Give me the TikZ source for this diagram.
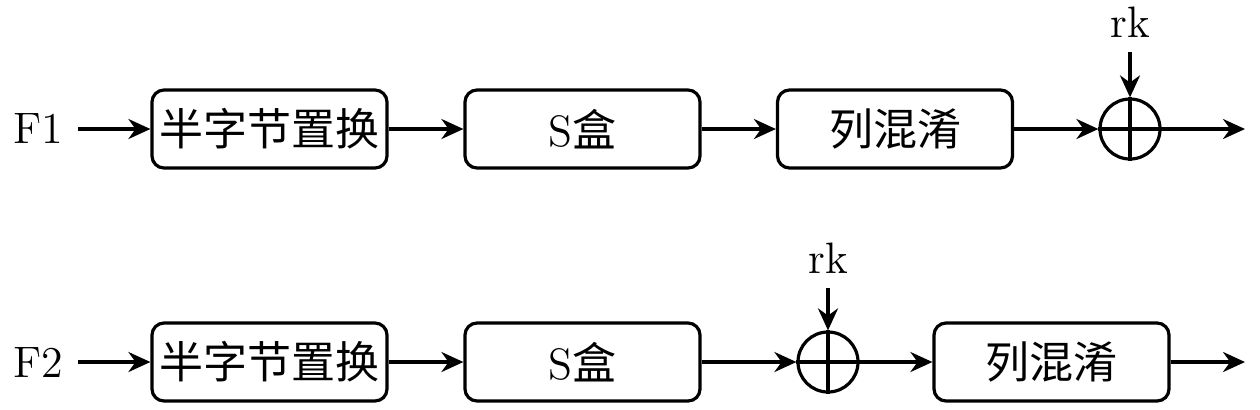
\documentclass[tikz,border=0pt]{standalone}
\usepackage{fontspec}
\newfontfamily\cjk{Noto Sans CJK SC}
\newcommand{\zh}[1]{{\cjk #1}}
\usetikzlibrary{arrows.meta}

\begin{document}
\begin{tikzpicture}[x=0.25pt,y=-0.25pt,line width=0.8pt,
  font=\fontsize{11}{13}\selectfont,
  blk/.style={draw,rounded corners=3pt,minimum width=58.75pt,minimum height=19.5pt,inner sep=0pt},
  xorc/.style={draw,circle,minimum size=15pt,inner sep=0pt},
  >={Stealth[length=5.5pt,width=5pt]}]
\useasboundingbox (0,0) rectangle (1260,409);
%\draw[help lines] (0,0) grid (1260,409);
\foreach \x/\y/\n/\t in {38/129/f1/F1, 38/362/f2/F2, 1130/22/k1/rk, 828/258/k2/rk}
  \node (\n) at (\x,\y) {\t};
\foreach \x/\y/\n/\t in {269.5/129/p1/\zh{半字节置换}, 582.5/129/s1/S\zh{盒}, 895/129/m1/\zh{列混淆},
    269.5/362/p2/\zh{半字节置换}, 582.5/362/s2/S\zh{盒}, 1051.5/362/m2/\zh{列混淆}}
  \node[blk] (\n) at (\x,\y) {\t};
\foreach \x/\y/\n in {1130/129/c1, 828/362/c2}
  \node[xorc] (\n) at (\x,\y) {};
\foreach \n in {c1, c2}
  \draw (\n.north) -- (\n.south) (\n.west) -- (\n.east);
\coordinate (o1) at (1245,129);
\coordinate (o2) at (1245,362);
\foreach \s/\t in {f1/p1, p1/s1, s1/m1, m1/c1, c1/o1, k1/c1,
    f2/p2, p2/s2, s2/c2, c2/m2, m2/o2, k2/c2}
  \draw[->] (\s) -- (\t);
\end{tikzpicture}
\end{document}
